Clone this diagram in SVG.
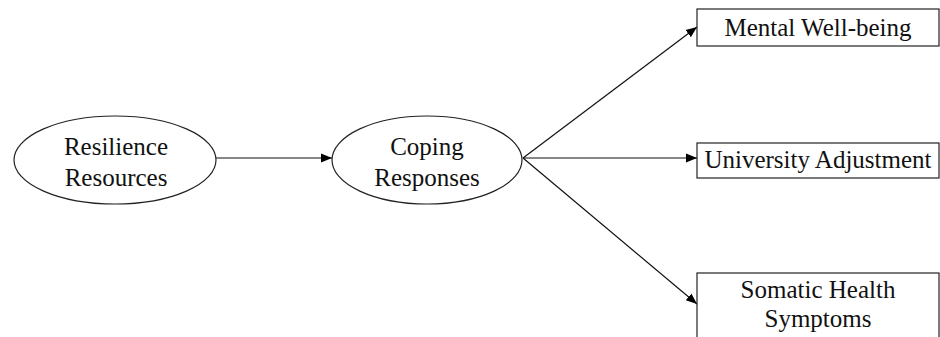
<svg xmlns="http://www.w3.org/2000/svg" width="940" height="337" viewBox="0 0 940 337">
<defs>
<marker id="ah" viewBox="0 0 10 10" refX="10" refY="5" markerWidth="11" markerHeight="11" markerUnits="userSpaceOnUse" orient="auto">
<path d="M0,1 L10,5 L0,9 Z" fill="#000"/>
</marker>
<style>
.n{fill:#fff;stroke:#222;stroke-width:1.2}
.t{font-family:"Liberation Serif","Times New Roman",serif;font-size:25px;fill:#111;text-anchor:middle}
.c{stroke:#111;stroke-width:1.2;fill:none;marker-end:url(#ah)}
</style>
</defs>
<rect width="940" height="337" fill="#fff"/>
<g id="connectors">
<line class="c" x1="216" y1="158" x2="332" y2="158"/>
<line class="c" x1="523" y1="158" x2="697" y2="27"/>
<line class="c" x1="523" y1="158" x2="697" y2="158"/>
<line class="c" x1="523" y1="158" x2="697" y2="304"/>
</g>
<g id="resilience">
<ellipse class="n" cx="115" cy="160" rx="101" ry="44"/>
<text class="t" x="116" y="155">Resilience</text>
<text class="t" x="116" y="186">Resources</text>
</g>
<g id="coping">
<ellipse class="n" cx="427" cy="160" rx="95" ry="44"/>
<text class="t" x="427" y="155">Coping</text>
<text class="t" x="427" y="186">Responses</text>
</g>
<g id="wellbeing">
<rect class="n" x="697" y="9" width="242" height="37"/>
<text class="t" x="818" y="36">Mental Well-being</text>
</g>
<g id="adjustment">
<rect class="n" x="697" y="143" width="242" height="35"/>
<text class="t" x="818" y="168">University Adjustment</text>
</g>
<g id="somatic">
<rect class="n" x="697" y="273" width="242" height="70"/>
<text class="t" x="818" y="298">Somatic Health</text>
<text class="t" x="818" y="327">Symptoms</text>
</g>
</svg>
